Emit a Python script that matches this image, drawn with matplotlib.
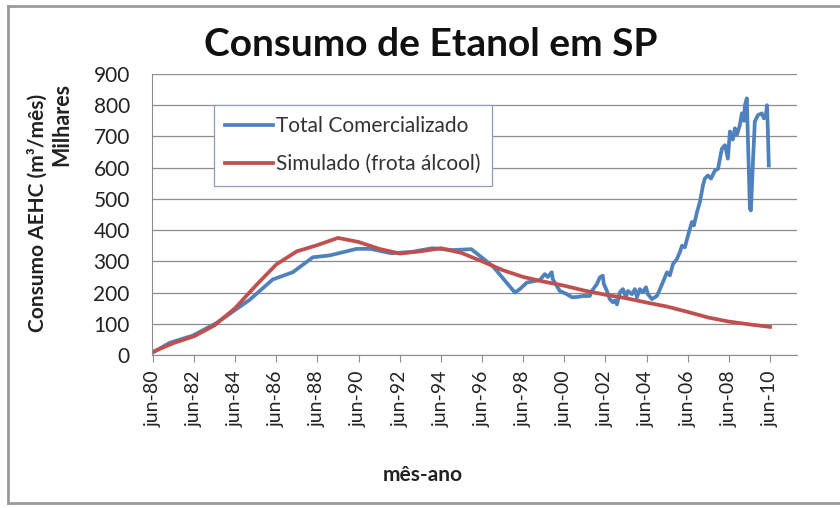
import numpy as np
import matplotlib.pyplot as plt
from matplotlib.lines import Line2D

# data (x in decimal years, y in thousand m3/month)
total_t = [1980.42, 1981.24, 1982.36, 1983.53, 1985.13, 1986.25, 1987.22, 1988.20,
           1989.02, 1990.33, 1991.0, 1992.0, 1993.0, 1994.0, 1995.0, 1995.9,
           1996.95, 1998.02, 1998.26, 1998.40, 1998.60, 1999.23, 1999.47, 1999.62,
           1999.81, 1999.86, 2000.20, 2000.54, 2000.79, 2001.08, 2001.32, 2001.66,
           2001.76, 2002.00, 2002.15, 2002.29, 2002.34, 2002.49, 2002.63, 2002.78,
           2002.88, 2002.98, 2003.12, 2003.27, 2003.41, 2003.51, 2003.71, 2003.85,
           2003.95, 2004.09, 2004.24, 2004.39, 2004.48, 2004.68, 2004.92, 2005.07,
           2005.21, 2005.41, 2005.55, 2005.70, 2005.89, 2006.04, 2006.14, 2006.28,
           2006.43, 2006.62, 2006.72, 2006.87, 2007.01, 2007.16, 2007.25, 2007.40,
           2007.55, 2007.74, 2007.89, 2008.08, 2008.23, 2008.37, 2008.47, 2008.61,
           2008.71, 2008.81, 2008.95, 2009.05, 2009.15, 2009.20, 2009.29, 2009.34,
           2009.44, 2009.49, 2009.59, 2009.68, 2009.83, 2010.02, 2010.12, 2010.22,
           2010.27, 2010.31, 2010.36]
total_v = [8, 39, 62, 103, 177, 242, 265, 313,
           319, 340, 340, 326, 330, 342, 336, 339,
           284, 200, 211, 220, 232, 240, 259, 250,
           265, 243, 205, 195, 185, 186, 189, 189,
           205, 227, 249, 254, 228, 205, 179, 169,
           175, 162, 201, 211, 186, 205, 195, 211,
           185, 211, 201, 217, 195, 179, 189, 211,
           233, 265, 255, 291, 307, 330, 350, 345,
           382, 426, 415, 458, 490, 543, 565, 575,
           565, 591, 596, 661, 672, 629, 716, 690,
           726, 705, 736, 774, 750, 800, 822, 704,
           468, 463, 620, 748, 768, 774, 758, 770,
           800, 725, 607]

sim_t = [1980.42 + i for i in range(31)]
sim_v = [10, 38, 60, 95, 150, 222, 290, 332, 352, 375,
         362, 340, 325, 332, 342, 327, 300, 272, 250, 235,
         222, 206, 193, 182, 168, 155, 138, 120, 107, 98, 90]

tick_pos = [1980.42 + 2 * i for i in range(16)]
tick_lab = ['jun-80', 'jun-82', 'jun-84', 'jun-86', 'jun-88', 'jun-90', 'jun-92', 'jun-94',
            'jun-96', 'jun-98', 'jun-00', 'jun-02', 'jun-04', 'jun-06', 'jun-08', 'jun-10']

plt.rcParams['font.family'] = ['Lato', 'DejaVu Sans']

f = plt.figure(figsize=(8.4, 5.08), dpi=100)
ax = f.add_axes([152/840, 1-355/508, 645/840, 281/508])

blue = '#4F81BD'
red = '#C0504D'
grid = '#8C8C8C'

ax.plot(total_t, total_v, color=blue, lw=2.7, label='Total Comercializado', solid_joinstyle='round')
ax.plot(sim_t, sim_v, color=red, lw=2.7, label='Simulado (frota álcool)', solid_joinstyle='round')

ax.set_xlim(1980.38, 2011.73)
ax.set_ylim(0, 900)
ax.set_yticks(range(0, 1000, 100))
ax.set_xticks(tick_pos)
ax.set_xticklabels(tick_lab, rotation=90, fontsize=14, color='#222222')
ax.tick_params(axis='y', length=0, pad=16, labelsize=15, labelcolor='#222222')
ax.tick_params(axis='x', length=5, color=grid, pad=6)
ax.yaxis.grid(True, color=grid, lw=0.9)
ax.set_axisbelow(True)
for s in ['top', 'right']:
    ax.spines[s].set_visible(False)
ax.spines['left'].set_color(grid)
ax.spines['bottom'].set_color(grid)

leg = ax.legend(loc='upper left', bbox_to_anchor=(0.096, 0.89), fontsize=15,
                frameon=True, fancybox=False, handlelength=2.3, handletextpad=0.12,
                labelspacing=0.85, borderpad=0.55, borderaxespad=0)
leg.get_frame().set_edgecolor('#8A9CC0')
leg.get_frame().set_linewidth(0.9)
leg.get_frame().set_alpha(1)
for t in leg.get_texts():
    t.set_color('#333333')

f.text(431/840, 1-45/508, 'Consumo de Etanol em SP', fontsize=28, fontweight='bold',
       ha='center', va='center', color='#111111')
f.text(423/840, 1-475/508, 'mês-ano', fontsize=15, fontweight='bold',
       ha='center', va='center', color='#222222')
f.text(37/840, 1-213/508, 'Consumo AEHC (m³/mês)', fontsize=15, fontweight='bold',
       rotation=90, ha='center', va='center', color='#222222')
f.text(62/840, 1-124/508, 'Milhares', fontsize=15.5, fontweight='bold',
       rotation=90, ha='center', va='center', color='#222222')

# chart border
bc = '#9A9A9A'
f.add_artist(Line2D([8/840, 8/840], [1-503/508, 1-6/508], color=bc, lw=2, transform=f.transFigure))
f.add_artist(Line2D([8/840, 1], [1-6/508, 1-6/508], color=bc, lw=2, transform=f.transFigure))
f.add_artist(Line2D([8/840, 1], [1-503/508, 1-503/508], color=bc, lw=2, transform=f.transFigure))

f.savefig('out.png', dpi=100)
